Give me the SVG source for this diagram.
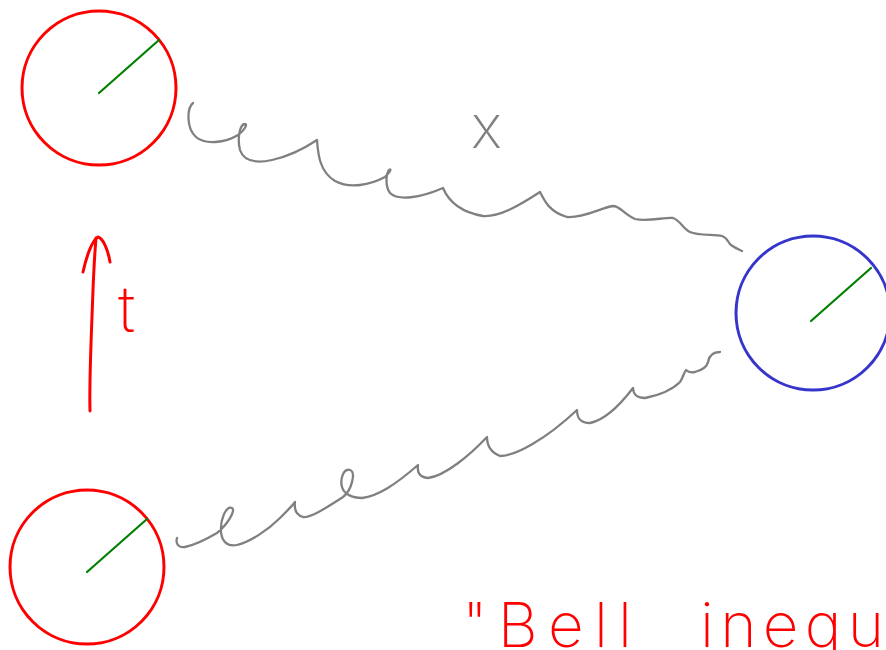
<svg xmlns="http://www.w3.org/2000/svg" width="886" height="650" viewBox="0 0 886 650">
<style>
.red{fill:none;stroke:#ff0000;stroke-width:3;stroke-linecap:round;stroke-linejoin:round}
.blue{fill:none;stroke:#3535cc;stroke-width:3}
.rad{stroke:#008000;stroke-width:2.2;stroke-linecap:round}
.wave{fill:none;stroke:#808080;stroke-width:2.3;stroke-linecap:round;stroke-linejoin:round}
.hand{font-family:Inter,"Open Sans","DejaVu Sans",sans-serif;font-weight:200}
</style>
<rect width="886" height="650" fill="#ffffff"/>
<g id="particle-top">
<circle class="red" cx="99" cy="88" r="77"/>
<line class="rad" x1="99" y1="93" x2="159" y2="40"/>
</g>
<g id="particle-bottom">
<circle class="red" cx="87" cy="567" r="77"/>
<line class="rad" x1="87" y1="572" x2="147" y2="519"/>
</g>
<g id="particle-right">
<circle class="blue" cx="813" cy="313" r="77"/>
<line class="rad" x1="811" y1="321" x2="871" y2="268"/>
</g>
<g id="connectors">
<path class="wave" d="M193,103 C187,108 186,128 196,137 C205,145 225,143 238,135 C244,131 248,124 245,124 C240,124 237,138 240,150 C244,162 258,163 272,160 C290,156 305,148 317,140 C318,155 320,172 335,181 C350,189 370,185 385,177 C390,172 392,168 389,170 C386,174 385,186 390,193 C398,201 420,198 443,188 C448,200 460,212 483,216 C500,217 520,205 540,192 C545,202 550,212 567,217 C585,218 600,208 613,206 C620,206 625,215 635,219 C648,222 665,217 673,218 C680,220 683,229 690,232 C698,236 715,234 722,236 C728,238 728,243 731,245 C735,248 740,250 742,251"/>
<path class="wave" d="M177,538 C175,545 180,548 185,547 C195,545 205,540 217,533 C228,524 236,510 232,508 C226,505 220,520 221,532 C222,542 228,547 237,545 C250,542 268,530 280,518 C288,510 293,505 295,502 C294,510 296,515 303,517 C312,518 330,505 343,497 C352,490 356,472 350,470 C343,468 340,480 342,487 C344,494 352,498 362,498 C378,496 395,485 418,465 C417,472 419,477 428,478 C445,476 470,455 487,437 C487,445 490,452 500,456 C515,456 545,440 577,410 C577,418 580,423 590,423 C605,420 620,405 633,388 C633,393 636,398 645,398 C660,395 672,390 680,382 C683,378 684,372 686,370 C688,372 690,373 695,372 C702,370 707,367 708,362 C709,356 712,352 720,352"/>
</g>
<g id="time-arrow">
<path class="red" d="M90,411 C89,380 92,320 93,290 C94,265 95,250 96,238"/>
<path class="red" stroke-width="3.5" d="M83,272 C86,258 92,240 98,237 C103,238 108,250 110,262"/>
</g>
<text class="hand" x="471" y="148" font-size="60" fill="#808080">x</text>
<text class="hand" x="118" y="332" font-size="64" fill="#ff0000">t</text>
<text class="hand" x="462" y="647" font-size="62" fill="#ff0000" textLength="170" lengthAdjust="spacing">"Bell</text>
<text class="hand" x="700" y="647" font-size="62" fill="#ff0000" textLength="184" lengthAdjust="spacing">inequ</text>
</svg>
